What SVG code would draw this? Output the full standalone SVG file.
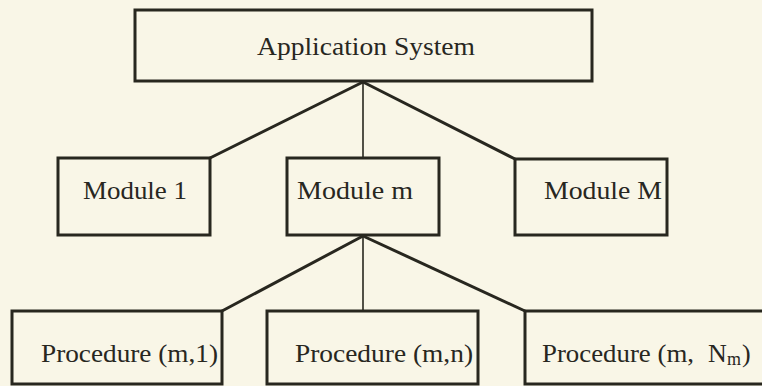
<svg xmlns="http://www.w3.org/2000/svg" width="762" height="386" viewBox="0 0 762 386">
  <style>
    .box { fill: none; stroke: #28271f; stroke-width: 3; }
    .edge { fill: none; stroke: #28271f; stroke-width: 3; stroke-linecap: round; }
    .stem { fill: none; stroke: #28271f; stroke-width: 1.6; }
    .lbl { font-family: "Liberation Serif", "DejaVu Serif", serif; font-size: 26px; fill: #28271f; }
    .sub { font-size: 18px; }
  </style>

  <rect x="0" y="0" width="762" height="386" fill="#f9f6e7"/>

  <!-- connectors -->
  <g id="connectors">
    <line class="edge" x1="363" y1="82" x2="210" y2="158"/>
    <line class="stem" x1="363" y1="82" x2="363" y2="158"/>
    <line class="edge" x1="363" y1="82" x2="515" y2="159"/>
    <line class="edge" x1="363" y1="236" x2="222" y2="311"/>
    <line class="stem" x1="363" y1="236" x2="363" y2="311"/>
    <line class="edge" x1="363" y1="236" x2="525" y2="311"/>
  </g>

  <g id="app-system">
    <rect class="box" x="135" y="10" width="457" height="71"/>
    <text class="lbl" x="257" y="55" textLength="218" lengthAdjust="spacingAndGlyphs">Application System</text>
  </g>

  <g id="module-1">
    <rect class="box" x="58" y="158" width="152" height="77"/>
    <text class="lbl" x="83" y="199" textLength="104" lengthAdjust="spacingAndGlyphs">Module 1</text>
  </g>

  <g id="module-m">
    <rect class="box" x="287" y="158" width="152" height="77"/>
    <text class="lbl" x="297" y="199" textLength="116" lengthAdjust="spacingAndGlyphs">Module m</text>
  </g>

  <g id="module-M">
    <rect class="box" x="515" y="159" width="152" height="76"/>
    <text class="lbl" x="544" y="199" textLength="118" lengthAdjust="spacingAndGlyphs">Module M</text>
  </g>

  <g id="procedure-m-1">
    <rect class="box" x="12" y="311" width="210" height="73"/>
    <text class="lbl" x="41" y="362" textLength="177" lengthAdjust="spacingAndGlyphs">Procedure (m,1)</text>
  </g>

  <g id="procedure-m-n">
    <rect class="box" x="267" y="311" width="211" height="73"/>
    <text class="lbl" x="295" y="362" textLength="178" lengthAdjust="spacingAndGlyphs">Procedure (m,n)</text>
  </g>

  <g id="procedure-m-Nm">
    <rect class="box" x="525" y="311" width="250" height="73"/>
    <text class="lbl" y="362"><tspan x="542" textLength="152" lengthAdjust="spacingAndGlyphs">Procedure (m,</tspan><tspan x="708">N</tspan><tspan class="sub" x="727" y="365">m</tspan><tspan x="742" y="362">)</tspan></text>
  </g>
</svg>
